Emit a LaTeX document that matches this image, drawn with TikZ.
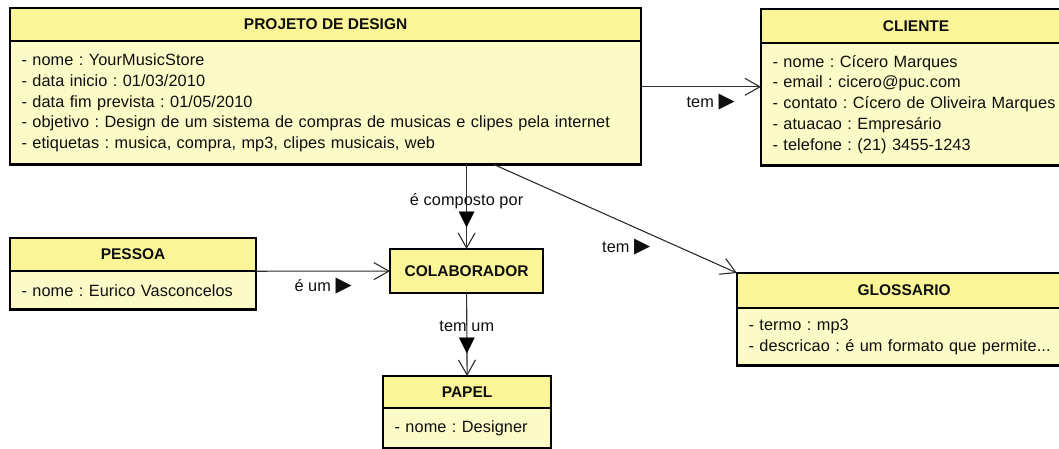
\documentclass[tikz,border=0pt]{standalone}
\usepackage{fontspec}
\setmainfont{Liberation Sans}
\newfontfamily\bodyfont{Liberation Sans}[LetterSpace=0.5]
\newfontfamily\symfont{DejaVu Sans}
\usetikzlibrary{arrows.meta}
\definecolor{headyellow}{RGB}{250,245,150}
\definecolor{bodyyellow}{RGB}{252,251,199}
\definecolor{linkgray}{RGB}{45,45,45}
\definecolor{inkgray}{RGB}{15,15,15}
\tikzset{>={Straight Barb[length=15pt, width=17pt]}}
\tikzset{
  classhead/.style = {draw, line width=1.2pt, fill=headyellow, text=inkgray,
    font=\fontsize{15.5}{18}\selectfont\bfseries, minimum height=32pt,
    inner sep=0pt, anchor=north west},
  classbody/.style = {draw, line width=1.2pt, fill=bodyyellow, text=inkgray,
    font=\bodyfont\fontsize{16.3}{20.8}\selectfont\frenchspacing, align=left,
    inner xsep=11pt, inner ysep=0pt, anchor=north west},
  frame/.style = {draw=black, line width=2.2pt},
  link/.style = {->, draw=linkgray, line width=1.1pt},
  tag/.style = {text=inkgray, font=\bodyfont\fontsize{16.3}{18}\selectfont, inner sep=0pt},
  dirmark/.style = {text=black, font=\symfont\fontsize{21}{21}\selectfont, inner sep=0pt},
}
\newcommand{\tri}{{\symfont\fontsize{21}{21}\selectfont ▶}}

\begin{document}
\begin{tikzpicture}[x=1pt, y=-1pt]
    \useasboundingbox (0,0) rectangle (1059,448);
    \clip (0,0) rectangle (1059,448);
    % classes
    \node[classhead, minimum width=630pt] (proj) at (10,8) {PROJETO DE DESIGN};
    \node[classbody, text width=608pt, minimum height=122pt] (projb) at (proj.south west)
        {- nome : YourMusicStore\\
         - data inicio : 01/03/2010\\
         - data fim prevista : 01/05/2010\\
         - objetivo : Design de um sistema de compras de musicas e clipes pela internet\\
         - etiquetas : musica, compra, mp3, clipes musicais, web};
    \node[classhead, minimum width=309pt, minimum height=33pt] (cli) at (761,9) {CLIENTE};
    \node[classbody, text width=330pt, minimum height=121pt] (clib) at (cli.south west)
        {- nome : Cícero Marques\\
         - email : cicero@puc.com\\
         - contato : Cícero de Oliveira Marques\\
         - atuacao : Empresário\\
         - telefone : (21) 3455-1243};
    \node[classhead, minimum width=245pt] (pes) at (10,238) {PESSOA};
    \node[classbody, text width=223pt, minimum height=37pt] (pesb) at (pes.south west)
        {- nome : Eurico Vasconcelos};
    \node[classhead, minimum width=152pt, minimum height=43pt] (colab) at (390,249) {COLABORADOR};
    \node[classhead, minimum width=333pt, minimum height=34pt] (glos) at (737,273) {GLOSSARIO};
    \node[classbody, text width=311pt, minimum height=56pt] (glosb) at (glos.south west)
        {- termo : mp3\\
         - descricao : é um formato que permite...};
    \node[classhead, minimum width=167pt, minimum height=31pt] (pap) at (383,376) {PAPEL};
    \node[classbody, text width=145pt, minimum height=39pt] (papb) at (pap.south west)
        {- nome : Designer};
    % outer frames
    \draw[frame] (proj.north west) rectangle (projb.south east);
    \draw[frame] (cli.north west) rectangle (clib.south east);
    \draw[frame] (pes.north west) rectangle (pesb.south east);
    \draw[frame] (colab.north west) rectangle (colab.south east);
    \draw[frame] (glos.north west) rectangle (glosb.south east);
    \draw[frame] (pap.north west) rectangle (papb.south east);
    % links
    \draw[link] ([yshift=16pt]projb.east) -- ([yshift=16pt]projb.east -| clib.west)
        node[tag, pos=0.58, yshift=-15pt] (tem1) {tem \tri};
    \draw[link] (colab.north |- projb.south) -- (colab.north)
        node[tag, pos=0.43] (comp) {é composto por}
        node[dirmark, pos=0.66] (down1) {▼};
    \draw[link] ([xshift=168pt]projb.south) -- (glos.north west)
        node[tag, pos=0.545, yshift=-23pt] (tem2) {tem \tri};
    \draw[link] (pesb.north east) -- (colab.west)
        node[tag, pos=0.5, yshift=-15pt] (eum) {é um \tri};
    \draw[link] (colab.south) -- (pap.north)
        node[tag, pos=0.4] (temum) {tem um}
        node[dirmark, pos=0.64] (down2) {▼};
\end{tikzpicture}
\end{document}
